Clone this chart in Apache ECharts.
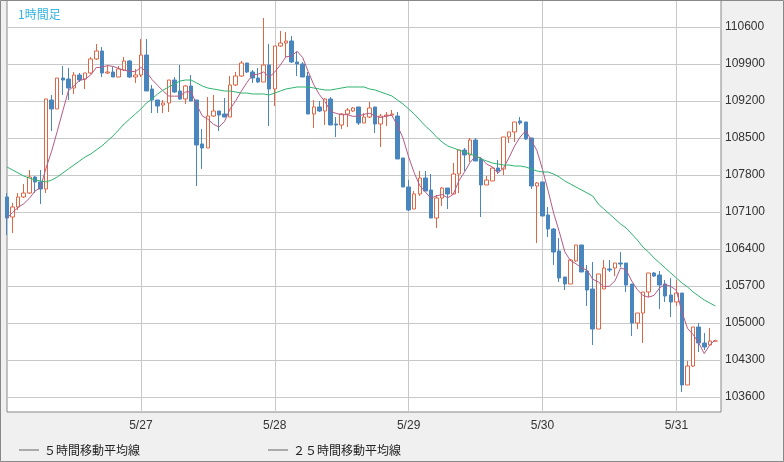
<!DOCTYPE html>
<html><head><meta charset="utf-8">
<script src="https://cdn.jsdelivr.net/npm/echarts@6/dist/echarts.min.js"></script>
<style>html,body{margin:0;padding:0;background:#f0f0f0}#c{width:784px;height:462px}</style>
</head><body><div id="c"></div>
<script>
const opens=[107384,107005,107195,107384,107459,107762,107668,107535,109219,109049,109635,109616,109446,109692,109616,109730,109995,110146,109730,109749,109654,109787,109957,109654,109692,110070,109427,109219,109124,109162,109597,109389,109238,109484,109219,108387,108311,108916,109011,108954,108897,109503,109673,109919,109749,109635,109560,109881,109427,110241,110297,110335,109938,109900,109673,108954,109087,109011,109238,108765,108746,108954,109011,109087,108784,108897,109087,108765,108916,108935,108916,108122,107573,107157,107441,107743,107516,106986,107365,107554,107441,107819,108273,108178,108462,108103,107611,107687,107932,107914,108519,108614,108822,108803,108500,107592,107668,107043,106778,106362,105870,105738,106173,106476,105984,105643,104886,105643,106022,106040,106135,106135,105738,104999,105189,105586,105946,105908,105738,105530,105397,105567,103827,104186,104924,104621,104584,104659];
const closes=[106986,107195,107384,107459,107762,107668,107535,109238,109049,109635,109597,109446,109692,109597,109730,109995,110146,109730,109749,109654,109806,109957,109654,109692,110070,109389,109219,109105,109162,109597,109370,109238,109484,109200,108368,108311,108916,109011,108935,108897,109503,109673,109919,109749,109635,109560,109881,109427,110241,110297,110335,109938,109900,109654,108954,109087,109011,109238,108746,108746,108954,109030,109068,108784,108897,109068,108765,108916,108935,108954,108103,107573,107138,107441,107743,107497,106986,107365,107554,107441,107819,108273,108178,108462,108065,107611,107705,107932,107876,108519,108614,108803,108784,108481,107592,107649,107024,106778,106343,105851,105738,106192,106476,105965,105624,104886,105927,106040,106003,106135,106116,105719,104999,105189,105586,105946,105889,105719,105511,105397,105567,103827,104186,104924,104621,104546,104659,104659];
const lows=[106665,106703,107138,107365,107441,107459,107251,107459,108632,109049,109314,109219,109333,109560,109427,109711,109976,109654,109711,109654,109654,109768,109635,109541,109654,109389,108973,108973,108973,108992,109351,109219,109143,109200,107592,107914,108311,108897,108632,108897,108897,109484,109654,109730,109541,109541,109560,108727,109105,110222,110033,109919,109673,109654,108954,108689,108992,108746,108746,108519,108670,108708,108992,108746,108784,108878,108595,108330,108727,108916,108103,107573,107119,107157,107403,107497,106986,106797,107213,107157,107441,107459,107876,108046,108065,107005,107611,107687,107819,107800,108406,108424,108746,108462,107535,106513,107024,106627,106097,105776,105624,105738,106154,105965,105321,104584,104886,105643,105965,105889,106059,105586,104754,104886,104621,105492,105870,105265,105397,105113,105321,103694,103827,104167,104451,104489,104584,104659];
const highs=[107459,107270,107459,107630,107895,107781,107895,109238,109314,109635,109862,109824,109749,109730,109730,110033,110279,110222,109881,109843,109862,110033,109976,109806,110373,110373,109503,109219,109219,109597,109654,109881,109503,109692,109219,108670,109276,109314,109011,109257,109673,109749,109957,109919,109787,109824,110770,110279,110241,110524,110506,110430,110127,109938,109749,109219,109200,109257,109276,108897,108973,109068,109087,109087,108973,109181,109087,108954,108992,109030,108992,108122,107705,107497,107876,107876,107819,107422,107573,107554,108027,108273,108311,108500,108500,108141,107781,107951,108084,108519,108614,108803,108897,108803,108500,107668,107668,107195,106797,106608,105870,106211,106476,106476,106097,106154,105927,106192,106192,106135,106343,106135,105738,105189,105586,105946,105965,105984,105813,105851,105813,105567,104281,104924,104999,104811,104905,104659];
const ma25=[107951,107895,107838,107781,107743,107705,107687,107668,107705,107762,107838,107914,107989,108065,108141,108197,108273,108349,108443,108538,108651,108765,108860,108954,109049,109162,109238,109333,109408,109465,109522,109578,109597,109597,109541,109484,109446,109427,109408,109389,109389,109370,109351,109351,109333,109333,109333,109314,109351,109389,109427,109446,109465,109465,109465,109446,109427,109408,109408,109427,109446,109465,109465,109465,109465,109427,109408,109370,109333,109295,109219,109143,109049,108954,108841,108727,108632,108519,108424,108349,108311,108273,108235,108197,108159,108103,108065,108027,108008,107989,107989,107970,107970,107951,107914,107876,107857,107857,107819,107762,107687,107630,107573,107516,107459,107403,107251,107157,107062,106968,106873,106797,106684,106570,106438,106343,106230,106135,106040,105946,105851,105757,105681,105586,105511,105435,105378,105321];
const yTicks=[103600,104300,105000,105700,106400,107100,107800,108500,109200,109900,110600];
const dayLabels={24:'5/27',48:'5/28',72:'5/29',96:'5/30',120:'5/31'};
const N=129;
const cats=[];for(let i=0;i<N;i++)cats.push(dayLabels[i]||'');
const kdata=opens.map((o,i)=>[o,closes[i],lows[i],highs[i]]);
const ma5=closes.map((c,i)=>{const s=closes.slice(Math.max(0,i-4),i+1);return Math.round(s.reduce((a,b)=>a+b,0)/s.length);});
const showDay=(i)=>!!dayLabels[i];
const chart=echarts.init(document.getElementById('c'));
chart.setOption({
  animation:false,
  backgroundColor:'#f0f0f0',
  textStyle:{fontFamily:'"Liberation Sans","Noto Sans CJK JP",sans-serif'},
  title:{text:'1時間足',left:13,top:3,textStyle:{fontSize:12,fontWeight:'normal',color:'#33b5e5',fontFamily:'"Noto Sans CJK JP"'}},
  grid:{left:7,right:63,top:0,height:412,show:true,backgroundColor:'#fff',borderColor:'#888',borderWidth:1},
  xAxis:{type:'category',data:cats,boundaryGap:false,
    axisLine:{show:false},axisTick:{show:false},
    axisLabel:{interval:(i)=>showDay(i),color:'#333',fontSize:12,margin:8},
    splitLine:{show:true,interval:(i)=>showDay(i),lineStyle:{color:'#c8c8c8'}}},
  yAxis:{type:'value',position:'right',min:103316,max:111111,scale:true,
    axisLine:{show:false},
    axisTick:{show:false,customValues:yTicks},
    axisLabel:{customValues:yTicks,color:'#333',fontSize:12,margin:4,formatter:(v)=>String(v)},
    splitLine:{show:true,lineStyle:{color:'#c8c8c8'}}},
  legend:{left:14,top:439,itemWidth:20,itemHeight:1,icon:'rect',itemGap:128,
    itemStyle:{color:'#666'},textStyle:{fontSize:12,color:'#222',fontFamily:'"Noto Sans CJK JP"'},
    data:['５時間移動平均線','２５時間移動平均線']},
  series:[
    {type:'candlestick',data:kdata,barWidth:4,
      itemStyle:{color:'#ffffff',borderColor:'#dd6644',color0:'#4a86be',borderColor0:'#4a86be',borderWidth:1}},
    {name:'５時間移動平均線',type:'line',data:ma5,symbol:'none',lineStyle:{color:'#b55a86',width:1},itemStyle:{color:'#b55a86'}},
    {name:'２５時間移動平均線',type:'line',data:ma25,symbol:'none',lineStyle:{color:'#2db36e',width:1},itemStyle:{color:'#2db36e'}}
  ],
  graphic:[{type:'rect',shape:{x:0.5,y:0.5,width:783,height:461},style:{fill:'none',stroke:'#888',lineWidth:1},z:100}]
});
</script></body></html>
